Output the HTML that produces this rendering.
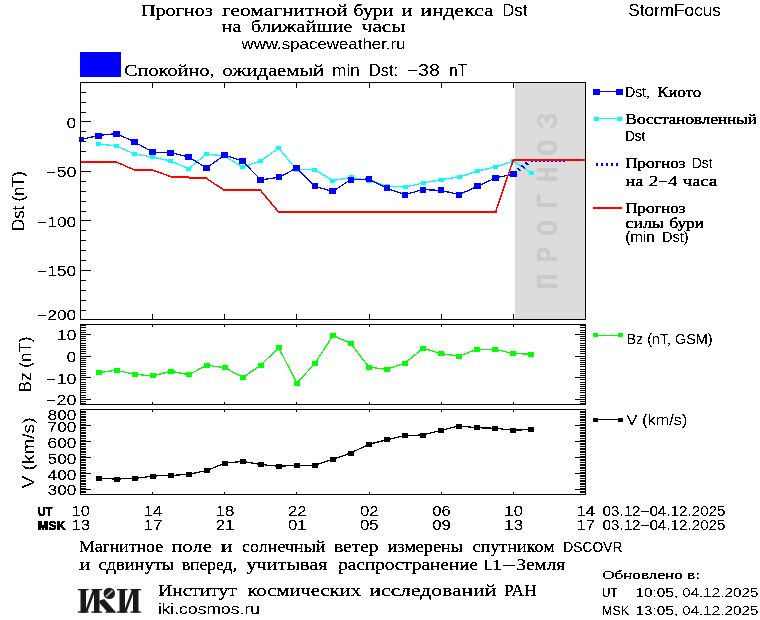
<!DOCTYPE html>
<html><head><meta charset="utf-8"><title>StormFocus</title>
<style>html,body{margin:0;padding:0;background:#fff;}svg{display:block;}text{white-space:pre;}</style></head><body>
<svg width="760" height="620" viewBox="0 0 760 620">
<rect x="0" y="0" width="760" height="620" fill="#fff"/>
<defs><filter id="crisp" x="0" y="0" width="100%" height="100%" filterUnits="userSpaceOnUse" primitiveUnits="userSpaceOnUse" color-interpolation-filters="sRGB"><feComponentTransfer><feFuncA type="discrete" tableValues="0 0 1 1 1"/></feComponentTransfer></filter><filter id="crisps" x="0" y="0" width="100%" height="100%" filterUnits="userSpaceOnUse" primitiveUnits="userSpaceOnUse" color-interpolation-filters="sRGB"><feComponentTransfer><feFuncA type="discrete" tableValues="0 0 0 0 1 1 1 1 1"/></feComponentTransfer></filter></defs>
<g shape-rendering="crispEdges">
<rect x="80" y="52" width="41" height="25" fill="#0000ff"/>
<rect x="515" y="83" width="70" height="236" fill="#dcdcdc"/>
</g>
<text transform="translate(557,289.5) rotate(-90) scale(0.9,1)" font-family='"Liberation Mono", monospace' font-weight="bold" font-size="30" fill="#cacaca" textLength="196.5" lengthAdjust="spacing">ПРОГНОЗ</text>
<g shape-rendering="crispEdges">
<rect x="80" y="82" width="506" height="1" fill="#000"/>
<rect x="80" y="319" width="506" height="1" fill="#000"/>
<rect x="80" y="82" width="1" height="238" fill="#000"/>
<rect x="585" y="82" width="1" height="238" fill="#000"/>
<rect x="80" y="324" width="506" height="1" fill="#000"/>
<rect x="80" y="404" width="506" height="1" fill="#000"/>
<rect x="80" y="324" width="1" height="81" fill="#000"/>
<rect x="585" y="324" width="1" height="81" fill="#000"/>
<rect x="80" y="409" width="506" height="1" fill="#000"/>
<rect x="80" y="494" width="506" height="1" fill="#000"/>
<rect x="80" y="409" width="1" height="86" fill="#000"/>
<rect x="585" y="409" width="1" height="86" fill="#000"/>
<rect x="80" y="82" width="1" height="6" fill="#000"/>
<rect x="80" y="314" width="1" height="6" fill="#000"/>
<rect x="80" y="324" width="1" height="3" fill="#000"/>
<rect x="80" y="402" width="1" height="3" fill="#000"/>
<rect x="80" y="409" width="1" height="3" fill="#000"/>
<rect x="80" y="492" width="1" height="3" fill="#000"/>
<rect x="152" y="82" width="1" height="6" fill="#000"/>
<rect x="152" y="314" width="1" height="6" fill="#000"/>
<rect x="152" y="324" width="1" height="3" fill="#000"/>
<rect x="152" y="402" width="1" height="3" fill="#000"/>
<rect x="152" y="409" width="1" height="3" fill="#000"/>
<rect x="152" y="492" width="1" height="3" fill="#000"/>
<rect x="224" y="82" width="1" height="6" fill="#000"/>
<rect x="224" y="314" width="1" height="6" fill="#000"/>
<rect x="224" y="324" width="1" height="3" fill="#000"/>
<rect x="224" y="402" width="1" height="3" fill="#000"/>
<rect x="224" y="409" width="1" height="3" fill="#000"/>
<rect x="224" y="492" width="1" height="3" fill="#000"/>
<rect x="296" y="82" width="1" height="6" fill="#000"/>
<rect x="296" y="314" width="1" height="6" fill="#000"/>
<rect x="296" y="324" width="1" height="3" fill="#000"/>
<rect x="296" y="402" width="1" height="3" fill="#000"/>
<rect x="296" y="409" width="1" height="3" fill="#000"/>
<rect x="296" y="492" width="1" height="3" fill="#000"/>
<rect x="369" y="82" width="1" height="6" fill="#000"/>
<rect x="369" y="314" width="1" height="6" fill="#000"/>
<rect x="369" y="324" width="1" height="3" fill="#000"/>
<rect x="369" y="402" width="1" height="3" fill="#000"/>
<rect x="369" y="409" width="1" height="3" fill="#000"/>
<rect x="369" y="492" width="1" height="3" fill="#000"/>
<rect x="441" y="82" width="1" height="6" fill="#000"/>
<rect x="441" y="314" width="1" height="6" fill="#000"/>
<rect x="441" y="324" width="1" height="3" fill="#000"/>
<rect x="441" y="402" width="1" height="3" fill="#000"/>
<rect x="441" y="409" width="1" height="3" fill="#000"/>
<rect x="441" y="492" width="1" height="3" fill="#000"/>
<rect x="513" y="82" width="1" height="6" fill="#000"/>
<rect x="513" y="314" width="1" height="6" fill="#000"/>
<rect x="513" y="324" width="1" height="3" fill="#000"/>
<rect x="513" y="402" width="1" height="3" fill="#000"/>
<rect x="513" y="409" width="1" height="3" fill="#000"/>
<rect x="513" y="492" width="1" height="3" fill="#000"/>
<rect x="585" y="82" width="1" height="6" fill="#000"/>
<rect x="585" y="314" width="1" height="6" fill="#000"/>
<rect x="585" y="324" width="1" height="3" fill="#000"/>
<rect x="585" y="402" width="1" height="3" fill="#000"/>
<rect x="585" y="409" width="1" height="3" fill="#000"/>
<rect x="585" y="492" width="1" height="3" fill="#000"/>
<rect x="80" y="82" width="6" height="1" fill="#000"/>
<rect x="80" y="92" width="6" height="1" fill="#000"/>
<rect x="80" y="102" width="6" height="1" fill="#000"/>
<rect x="80" y="112" width="6" height="1" fill="#000"/>
<rect x="80" y="121" width="11" height="1" fill="#000"/>
<rect x="80" y="131" width="6" height="1" fill="#000"/>
<rect x="80" y="141" width="6" height="1" fill="#000"/>
<rect x="80" y="151" width="6" height="1" fill="#000"/>
<rect x="80" y="161" width="6" height="1" fill="#000"/>
<rect x="80" y="171" width="11" height="1" fill="#000"/>
<rect x="80" y="181" width="6" height="1" fill="#000"/>
<rect x="80" y="191" width="6" height="1" fill="#000"/>
<rect x="80" y="201" width="6" height="1" fill="#000"/>
<rect x="80" y="211" width="6" height="1" fill="#000"/>
<rect x="80" y="220" width="11" height="1" fill="#000"/>
<rect x="80" y="230" width="6" height="1" fill="#000"/>
<rect x="80" y="240" width="6" height="1" fill="#000"/>
<rect x="80" y="250" width="6" height="1" fill="#000"/>
<rect x="80" y="260" width="6" height="1" fill="#000"/>
<rect x="80" y="270" width="11" height="1" fill="#000"/>
<rect x="80" y="280" width="6" height="1" fill="#000"/>
<rect x="80" y="290" width="6" height="1" fill="#000"/>
<rect x="80" y="300" width="6" height="1" fill="#000"/>
<rect x="80" y="310" width="6" height="1" fill="#000"/>
<rect x="80" y="319" width="11" height="1" fill="#000"/>
<rect x="80" y="325" width="6" height="1" fill="#000"/>
<rect x="580" y="325" width="6" height="1" fill="#000"/>
<rect x="80" y="327" width="6" height="1" fill="#000"/>
<rect x="580" y="327" width="6" height="1" fill="#000"/>
<rect x="80" y="330" width="6" height="1" fill="#000"/>
<rect x="580" y="330" width="6" height="1" fill="#000"/>
<rect x="80" y="332" width="6" height="1" fill="#000"/>
<rect x="580" y="332" width="6" height="1" fill="#000"/>
<rect x="80" y="334" width="11" height="1" fill="#000"/>
<rect x="575" y="334" width="11" height="1" fill="#000"/>
<rect x="80" y="336" width="6" height="1" fill="#000"/>
<rect x="580" y="336" width="6" height="1" fill="#000"/>
<rect x="80" y="338" width="6" height="1" fill="#000"/>
<rect x="580" y="338" width="6" height="1" fill="#000"/>
<rect x="80" y="340" width="6" height="1" fill="#000"/>
<rect x="580" y="340" width="6" height="1" fill="#000"/>
<rect x="80" y="343" width="6" height="1" fill="#000"/>
<rect x="580" y="343" width="6" height="1" fill="#000"/>
<rect x="80" y="345" width="6" height="1" fill="#000"/>
<rect x="580" y="345" width="6" height="1" fill="#000"/>
<rect x="80" y="347" width="6" height="1" fill="#000"/>
<rect x="580" y="347" width="6" height="1" fill="#000"/>
<rect x="80" y="349" width="6" height="1" fill="#000"/>
<rect x="580" y="349" width="6" height="1" fill="#000"/>
<rect x="80" y="351" width="6" height="1" fill="#000"/>
<rect x="580" y="351" width="6" height="1" fill="#000"/>
<rect x="80" y="353" width="6" height="1" fill="#000"/>
<rect x="580" y="353" width="6" height="1" fill="#000"/>
<rect x="80" y="356" width="11" height="1" fill="#000"/>
<rect x="575" y="356" width="11" height="1" fill="#000"/>
<rect x="80" y="358" width="6" height="1" fill="#000"/>
<rect x="580" y="358" width="6" height="1" fill="#000"/>
<rect x="80" y="360" width="6" height="1" fill="#000"/>
<rect x="580" y="360" width="6" height="1" fill="#000"/>
<rect x="80" y="362" width="6" height="1" fill="#000"/>
<rect x="580" y="362" width="6" height="1" fill="#000"/>
<rect x="80" y="364" width="6" height="1" fill="#000"/>
<rect x="580" y="364" width="6" height="1" fill="#000"/>
<rect x="80" y="366" width="6" height="1" fill="#000"/>
<rect x="580" y="366" width="6" height="1" fill="#000"/>
<rect x="80" y="369" width="6" height="1" fill="#000"/>
<rect x="580" y="369" width="6" height="1" fill="#000"/>
<rect x="80" y="371" width="6" height="1" fill="#000"/>
<rect x="580" y="371" width="6" height="1" fill="#000"/>
<rect x="80" y="373" width="6" height="1" fill="#000"/>
<rect x="580" y="373" width="6" height="1" fill="#000"/>
<rect x="80" y="375" width="6" height="1" fill="#000"/>
<rect x="580" y="375" width="6" height="1" fill="#000"/>
<rect x="80" y="377" width="11" height="1" fill="#000"/>
<rect x="575" y="377" width="11" height="1" fill="#000"/>
<rect x="80" y="379" width="6" height="1" fill="#000"/>
<rect x="580" y="379" width="6" height="1" fill="#000"/>
<rect x="80" y="382" width="6" height="1" fill="#000"/>
<rect x="580" y="382" width="6" height="1" fill="#000"/>
<rect x="80" y="384" width="6" height="1" fill="#000"/>
<rect x="580" y="384" width="6" height="1" fill="#000"/>
<rect x="80" y="386" width="6" height="1" fill="#000"/>
<rect x="580" y="386" width="6" height="1" fill="#000"/>
<rect x="80" y="388" width="6" height="1" fill="#000"/>
<rect x="580" y="388" width="6" height="1" fill="#000"/>
<rect x="80" y="390" width="6" height="1" fill="#000"/>
<rect x="580" y="390" width="6" height="1" fill="#000"/>
<rect x="80" y="392" width="6" height="1" fill="#000"/>
<rect x="580" y="392" width="6" height="1" fill="#000"/>
<rect x="80" y="395" width="6" height="1" fill="#000"/>
<rect x="580" y="395" width="6" height="1" fill="#000"/>
<rect x="80" y="397" width="6" height="1" fill="#000"/>
<rect x="580" y="397" width="6" height="1" fill="#000"/>
<rect x="80" y="399" width="11" height="1" fill="#000"/>
<rect x="575" y="399" width="11" height="1" fill="#000"/>
<rect x="80" y="401" width="6" height="1" fill="#000"/>
<rect x="580" y="401" width="6" height="1" fill="#000"/>
<rect x="80" y="403" width="6" height="1" fill="#000"/>
<rect x="580" y="403" width="6" height="1" fill="#000"/>
<rect x="80" y="411" width="6" height="1" fill="#000"/>
<rect x="580" y="411" width="6" height="1" fill="#000"/>
<rect x="80" y="412" width="6" height="1" fill="#000"/>
<rect x="580" y="412" width="6" height="1" fill="#000"/>
<rect x="80" y="414" width="6" height="1" fill="#000"/>
<rect x="580" y="414" width="6" height="1" fill="#000"/>
<rect x="80" y="416" width="6" height="1" fill="#000"/>
<rect x="580" y="416" width="6" height="1" fill="#000"/>
<rect x="80" y="417" width="6" height="1" fill="#000"/>
<rect x="580" y="417" width="6" height="1" fill="#000"/>
<rect x="80" y="419" width="6" height="1" fill="#000"/>
<rect x="580" y="419" width="6" height="1" fill="#000"/>
<rect x="80" y="420" width="6" height="1" fill="#000"/>
<rect x="580" y="420" width="6" height="1" fill="#000"/>
<rect x="80" y="422" width="6" height="1" fill="#000"/>
<rect x="580" y="422" width="6" height="1" fill="#000"/>
<rect x="80" y="424" width="6" height="1" fill="#000"/>
<rect x="580" y="424" width="6" height="1" fill="#000"/>
<rect x="80" y="425" width="11" height="1" fill="#000"/>
<rect x="575" y="425" width="11" height="1" fill="#000"/>
<rect x="80" y="427" width="6" height="1" fill="#000"/>
<rect x="580" y="427" width="6" height="1" fill="#000"/>
<rect x="80" y="428" width="6" height="1" fill="#000"/>
<rect x="580" y="428" width="6" height="1" fill="#000"/>
<rect x="80" y="430" width="6" height="1" fill="#000"/>
<rect x="580" y="430" width="6" height="1" fill="#000"/>
<rect x="80" y="432" width="6" height="1" fill="#000"/>
<rect x="580" y="432" width="6" height="1" fill="#000"/>
<rect x="80" y="433" width="6" height="1" fill="#000"/>
<rect x="580" y="433" width="6" height="1" fill="#000"/>
<rect x="80" y="435" width="6" height="1" fill="#000"/>
<rect x="580" y="435" width="6" height="1" fill="#000"/>
<rect x="80" y="436" width="6" height="1" fill="#000"/>
<rect x="580" y="436" width="6" height="1" fill="#000"/>
<rect x="80" y="438" width="6" height="1" fill="#000"/>
<rect x="580" y="438" width="6" height="1" fill="#000"/>
<rect x="80" y="440" width="6" height="1" fill="#000"/>
<rect x="580" y="440" width="6" height="1" fill="#000"/>
<rect x="80" y="441" width="11" height="1" fill="#000"/>
<rect x="575" y="441" width="11" height="1" fill="#000"/>
<rect x="80" y="443" width="6" height="1" fill="#000"/>
<rect x="580" y="443" width="6" height="1" fill="#000"/>
<rect x="80" y="444" width="6" height="1" fill="#000"/>
<rect x="580" y="444" width="6" height="1" fill="#000"/>
<rect x="80" y="446" width="6" height="1" fill="#000"/>
<rect x="580" y="446" width="6" height="1" fill="#000"/>
<rect x="80" y="448" width="6" height="1" fill="#000"/>
<rect x="580" y="448" width="6" height="1" fill="#000"/>
<rect x="80" y="449" width="6" height="1" fill="#000"/>
<rect x="580" y="449" width="6" height="1" fill="#000"/>
<rect x="80" y="451" width="6" height="1" fill="#000"/>
<rect x="580" y="451" width="6" height="1" fill="#000"/>
<rect x="80" y="452" width="6" height="1" fill="#000"/>
<rect x="580" y="452" width="6" height="1" fill="#000"/>
<rect x="80" y="454" width="6" height="1" fill="#000"/>
<rect x="580" y="454" width="6" height="1" fill="#000"/>
<rect x="80" y="456" width="6" height="1" fill="#000"/>
<rect x="580" y="456" width="6" height="1" fill="#000"/>
<rect x="80" y="457" width="11" height="1" fill="#000"/>
<rect x="575" y="457" width="11" height="1" fill="#000"/>
<rect x="80" y="459" width="6" height="1" fill="#000"/>
<rect x="580" y="459" width="6" height="1" fill="#000"/>
<rect x="80" y="460" width="6" height="1" fill="#000"/>
<rect x="580" y="460" width="6" height="1" fill="#000"/>
<rect x="80" y="462" width="6" height="1" fill="#000"/>
<rect x="580" y="462" width="6" height="1" fill="#000"/>
<rect x="80" y="464" width="6" height="1" fill="#000"/>
<rect x="580" y="464" width="6" height="1" fill="#000"/>
<rect x="80" y="465" width="6" height="1" fill="#000"/>
<rect x="580" y="465" width="6" height="1" fill="#000"/>
<rect x="80" y="467" width="6" height="1" fill="#000"/>
<rect x="580" y="467" width="6" height="1" fill="#000"/>
<rect x="80" y="468" width="6" height="1" fill="#000"/>
<rect x="580" y="468" width="6" height="1" fill="#000"/>
<rect x="80" y="470" width="6" height="1" fill="#000"/>
<rect x="580" y="470" width="6" height="1" fill="#000"/>
<rect x="80" y="472" width="6" height="1" fill="#000"/>
<rect x="580" y="472" width="6" height="1" fill="#000"/>
<rect x="80" y="473" width="11" height="1" fill="#000"/>
<rect x="575" y="473" width="11" height="1" fill="#000"/>
<rect x="80" y="475" width="6" height="1" fill="#000"/>
<rect x="580" y="475" width="6" height="1" fill="#000"/>
<rect x="80" y="476" width="6" height="1" fill="#000"/>
<rect x="580" y="476" width="6" height="1" fill="#000"/>
<rect x="80" y="478" width="6" height="1" fill="#000"/>
<rect x="580" y="478" width="6" height="1" fill="#000"/>
<rect x="80" y="480" width="6" height="1" fill="#000"/>
<rect x="580" y="480" width="6" height="1" fill="#000"/>
<rect x="80" y="481" width="6" height="1" fill="#000"/>
<rect x="580" y="481" width="6" height="1" fill="#000"/>
<rect x="80" y="483" width="6" height="1" fill="#000"/>
<rect x="580" y="483" width="6" height="1" fill="#000"/>
<rect x="80" y="484" width="6" height="1" fill="#000"/>
<rect x="580" y="484" width="6" height="1" fill="#000"/>
<rect x="80" y="486" width="6" height="1" fill="#000"/>
<rect x="580" y="486" width="6" height="1" fill="#000"/>
<rect x="80" y="488" width="6" height="1" fill="#000"/>
<rect x="580" y="488" width="6" height="1" fill="#000"/>
<rect x="80" y="489" width="11" height="1" fill="#000"/>
<rect x="575" y="489" width="11" height="1" fill="#000"/>
<rect x="80" y="491" width="6" height="1" fill="#000"/>
<rect x="580" y="491" width="6" height="1" fill="#000"/>
<rect x="80" y="492" width="6" height="1" fill="#000"/>
<rect x="580" y="492" width="6" height="1" fill="#000"/>
</g>
<g shape-rendering="crispEdges">
<polyline points="98.50,144.00 116.50,146.00 134.50,154.00 152.50,157.00 170.50,161.00 188.50,168.60 206.50,154.00 224.50,156.00 242.60,167.00 260.60,161.00 278.70,148.00 296.70,169.60 314.60,169.60 332.80,180.60 351.00,177.40 369.00,180.60 387.20,186.00 405.20,187.00 423.40,183.00 441.20,179.60 459.30,177.00 477.40,171.00 495.40,167.00 513.20,161.00 531.50,173.00" fill="none" stroke="#00ffff" stroke-width="1.25" stroke-linejoin="miter"/>
<rect x="96.0" y="142.0" width="5" height="4" fill="#00ffff"/>
<rect x="114.0" y="144.0" width="5" height="4" fill="#00ffff"/>
<rect x="132.0" y="152.0" width="5" height="4" fill="#00ffff"/>
<rect x="150.0" y="155.0" width="5" height="4" fill="#00ffff"/>
<rect x="168.0" y="159.0" width="5" height="4" fill="#00ffff"/>
<rect x="186.0" y="166.6" width="5" height="4" fill="#00ffff"/>
<rect x="204.0" y="152.0" width="5" height="4" fill="#00ffff"/>
<rect x="222.0" y="154.0" width="5" height="4" fill="#00ffff"/>
<rect x="240.1" y="165.0" width="5" height="4" fill="#00ffff"/>
<rect x="258.1" y="159.0" width="5" height="4" fill="#00ffff"/>
<rect x="276.2" y="146.0" width="5" height="4" fill="#00ffff"/>
<rect x="294.2" y="167.6" width="5" height="4" fill="#00ffff"/>
<rect x="312.1" y="167.6" width="5" height="4" fill="#00ffff"/>
<rect x="330.3" y="178.6" width="5" height="4" fill="#00ffff"/>
<rect x="348.5" y="175.4" width="5" height="4" fill="#00ffff"/>
<rect x="366.5" y="178.6" width="5" height="4" fill="#00ffff"/>
<rect x="384.7" y="184.0" width="5" height="4" fill="#00ffff"/>
<rect x="402.7" y="185.0" width="5" height="4" fill="#00ffff"/>
<rect x="420.9" y="181.0" width="5" height="4" fill="#00ffff"/>
<rect x="438.7" y="177.6" width="5" height="4" fill="#00ffff"/>
<rect x="456.8" y="175.0" width="5" height="4" fill="#00ffff"/>
<rect x="474.9" y="169.0" width="5" height="4" fill="#00ffff"/>
<rect x="492.9" y="165.0" width="5" height="4" fill="#00ffff"/>
<rect x="510.7" y="159.0" width="5" height="4" fill="#00ffff"/>
<rect x="529.0" y="171.0" width="5" height="4" fill="#00ffff"/>
<polyline points="80.50,139.70 98.50,135.50 116.50,133.50 134.50,142.00 152.50,152.00 170.50,152.60 188.50,156.80 206.50,168.00 224.50,155.00 242.60,161.20 260.60,179.80 278.80,177.40 296.70,168.00 314.80,186.40 332.70,191.40 350.80,179.60 369.00,179.00 387.00,188.40 405.00,194.60 423.00,189.60 441.00,190.40 459.20,194.60 477.30,186.40 495.30,178.00 513.50,174.00" fill="none" stroke="#0000ff" stroke-width="1.25" stroke-linejoin="miter"/>
<rect x="95.25" y="132.5" width="6.5" height="6" fill="#0000ff"/>
<rect x="113.25" y="130.5" width="6.5" height="6" fill="#0000ff"/>
<rect x="131.25" y="139.0" width="6.5" height="6" fill="#0000ff"/>
<rect x="149.25" y="149.0" width="6.5" height="6" fill="#0000ff"/>
<rect x="167.25" y="149.6" width="6.5" height="6" fill="#0000ff"/>
<rect x="185.25" y="153.8" width="6.5" height="6" fill="#0000ff"/>
<rect x="203.25" y="165.0" width="6.5" height="6" fill="#0000ff"/>
<rect x="221.25" y="152.0" width="6.5" height="6" fill="#0000ff"/>
<rect x="239.35" y="158.2" width="6.5" height="6" fill="#0000ff"/>
<rect x="257.35" y="176.8" width="6.5" height="6" fill="#0000ff"/>
<rect x="275.55" y="174.4" width="6.5" height="6" fill="#0000ff"/>
<rect x="293.45" y="165.0" width="6.5" height="6" fill="#0000ff"/>
<rect x="311.55" y="183.4" width="6.5" height="6" fill="#0000ff"/>
<rect x="329.45" y="188.4" width="6.5" height="6" fill="#0000ff"/>
<rect x="347.55" y="176.6" width="6.5" height="6" fill="#0000ff"/>
<rect x="365.75" y="176.0" width="6.5" height="6" fill="#0000ff"/>
<rect x="383.75" y="185.4" width="6.5" height="6" fill="#0000ff"/>
<rect x="401.75" y="191.6" width="6.5" height="6" fill="#0000ff"/>
<rect x="419.75" y="186.6" width="6.5" height="6" fill="#0000ff"/>
<rect x="437.75" y="187.4" width="6.5" height="6" fill="#0000ff"/>
<rect x="455.95" y="191.6" width="6.5" height="6" fill="#0000ff"/>
<rect x="474.05" y="183.4" width="6.5" height="6" fill="#0000ff"/>
<rect x="492.05" y="175.0" width="6.5" height="6" fill="#0000ff"/>
<rect x="510.25" y="171.0" width="6.5" height="6" fill="#0000ff"/>
<rect x="79" y="137" width="5" height="5" fill="#0000ff"/>
<rect x="80" y="161" width="37" height="2" fill="#ff0000"/>
<polyline points="116.50,162.00 134.50,170.00" fill="none" stroke="#ff0000" stroke-width="1.5" stroke-linejoin="miter"/>
<rect x="134" y="169" width="19" height="2" fill="#ff0000"/>
<polyline points="152.50,170.00 170.50,176.50" fill="none" stroke="#ff0000" stroke-width="1.5" stroke-linejoin="miter"/>
<polyline points="170.50,176.50 206.50,178.50" fill="none" stroke="#ff0000" stroke-width="2" stroke-linejoin="miter"/>
<polyline points="206.50,178.50 224.50,190.30" fill="none" stroke="#ff0000" stroke-width="1.5" stroke-linejoin="miter"/>
<rect x="224" y="189" width="37" height="2" fill="#ff0000"/>
<polyline points="260.50,190.30 278.50,212.00" fill="none" stroke="#ff0000" stroke-width="1.5" stroke-linejoin="miter"/>
<rect x="278" y="211" width="219" height="2" fill="#ff0000"/>
<polyline points="495.50,212.00 513.20,160.20" fill="none" stroke="#ff0000" stroke-width="1.5" stroke-linejoin="miter"/>
<rect x="513" y="159" width="72" height="2" fill="#ff0000"/>
<rect x="531" y="161" width="2" height="1" fill="#0000ff"/>
<rect x="535" y="161" width="2" height="1" fill="#0000ff"/>
<rect x="539" y="161" width="2" height="1" fill="#0000ff"/>
<rect x="543" y="161" width="2" height="1" fill="#0000ff"/>
<rect x="547" y="161" width="2" height="1" fill="#0000ff"/>
<rect x="551" y="161" width="2" height="1" fill="#0000ff"/>
<rect x="555" y="161" width="2" height="1" fill="#0000ff"/>
<rect x="559" y="161" width="2" height="1" fill="#0000ff"/>
<rect x="563" y="161" width="2" height="1" fill="#0000ff"/>
</g>
<g shape-rendering="crispEdges" stroke="#0000ff" stroke-width="1.8">
<line x1="517.5" y1="168.2" x2="520.8" y2="171"/>
<line x1="521.5" y1="165.3" x2="524.8" y2="168.2"/>
<line x1="525.3" y1="162.4" x2="528.6" y2="165"/>
</g>
<g shape-rendering="crispEdges">
<polyline points="98.50,372.75 116.50,370.25 135.00,374.50 153.00,375.75 171.00,371.25 188.75,374.75 207.00,365.25 225.00,367.75 243.00,377.50 260.75,365.10 278.75,347.75 296.75,383.00 314.75,363.75 333.00,335.40 350.75,343.50 369.00,367.25 386.75,369.25 405.00,363.25 423.00,348.25 441.00,353.50 458.75,356.25 477.00,349.25 495.00,349.25 513.00,353.50 531.00,354.25" fill="none" stroke="#00ff00" stroke-width="1.25" stroke-linejoin="miter"/>
<rect x="95.5" y="370.25" width="6" height="5" fill="#00ff00"/>
<rect x="113.5" y="367.75" width="6" height="5" fill="#00ff00"/>
<rect x="132.0" y="372.0" width="6" height="5" fill="#00ff00"/>
<rect x="150.0" y="373.25" width="6" height="5" fill="#00ff00"/>
<rect x="168.0" y="368.75" width="6" height="5" fill="#00ff00"/>
<rect x="185.75" y="372.25" width="6" height="5" fill="#00ff00"/>
<rect x="204.0" y="362.75" width="6" height="5" fill="#00ff00"/>
<rect x="222.0" y="365.25" width="6" height="5" fill="#00ff00"/>
<rect x="240.0" y="375.0" width="6" height="5" fill="#00ff00"/>
<rect x="257.75" y="362.6" width="6" height="5" fill="#00ff00"/>
<rect x="275.75" y="345.25" width="6" height="5" fill="#00ff00"/>
<rect x="293.75" y="380.5" width="6" height="5" fill="#00ff00"/>
<rect x="311.75" y="361.25" width="6" height="5" fill="#00ff00"/>
<rect x="330.0" y="332.9" width="6" height="5" fill="#00ff00"/>
<rect x="347.75" y="341.0" width="6" height="5" fill="#00ff00"/>
<rect x="366.0" y="364.75" width="6" height="5" fill="#00ff00"/>
<rect x="383.75" y="366.75" width="6" height="5" fill="#00ff00"/>
<rect x="402.0" y="360.75" width="6" height="5" fill="#00ff00"/>
<rect x="420.0" y="345.75" width="6" height="5" fill="#00ff00"/>
<rect x="438.0" y="351.0" width="6" height="5" fill="#00ff00"/>
<rect x="455.75" y="353.75" width="6" height="5" fill="#00ff00"/>
<rect x="474.0" y="346.75" width="6" height="5" fill="#00ff00"/>
<rect x="492.0" y="346.75" width="6" height="5" fill="#00ff00"/>
<rect x="510.0" y="351.0" width="6" height="5" fill="#00ff00"/>
<rect x="528.0" y="351.75" width="6" height="5" fill="#00ff00"/>
<polyline points="98.50,478.50 116.50,479.00 135.00,478.50 153.00,476.00 171.00,475.50 189.00,474.25 207.00,470.50 225.00,463.00 243.00,461.50 261.00,464.50 279.00,466.25 297.00,465.25 314.75,465.25 333.00,459.25 350.75,453.00 369.00,444.25 387.00,439.75 405.00,435.50 423.00,435.00 441.00,430.25 459.00,426.00 477.00,427.75 495.00,428.25 513.00,430.25 531.00,429.50" fill="none" stroke="#000" stroke-width="1.25" stroke-linejoin="miter"/>
<rect x="95.5" y="476.0" width="6" height="5" fill="#000"/>
<rect x="113.5" y="476.5" width="6" height="5" fill="#000"/>
<rect x="132.0" y="476.0" width="6" height="5" fill="#000"/>
<rect x="150.0" y="473.5" width="6" height="5" fill="#000"/>
<rect x="168.0" y="473.0" width="6" height="5" fill="#000"/>
<rect x="186.0" y="471.75" width="6" height="5" fill="#000"/>
<rect x="204.0" y="468.0" width="6" height="5" fill="#000"/>
<rect x="222.0" y="460.5" width="6" height="5" fill="#000"/>
<rect x="240.0" y="459.0" width="6" height="5" fill="#000"/>
<rect x="258.0" y="462.0" width="6" height="5" fill="#000"/>
<rect x="276.0" y="463.75" width="6" height="5" fill="#000"/>
<rect x="294.0" y="462.75" width="6" height="5" fill="#000"/>
<rect x="311.75" y="462.75" width="6" height="5" fill="#000"/>
<rect x="330.0" y="456.75" width="6" height="5" fill="#000"/>
<rect x="347.75" y="450.5" width="6" height="5" fill="#000"/>
<rect x="366.0" y="441.75" width="6" height="5" fill="#000"/>
<rect x="384.0" y="437.25" width="6" height="5" fill="#000"/>
<rect x="402.0" y="433.0" width="6" height="5" fill="#000"/>
<rect x="420.0" y="432.5" width="6" height="5" fill="#000"/>
<rect x="438.0" y="427.75" width="6" height="5" fill="#000"/>
<rect x="456.0" y="423.5" width="6" height="5" fill="#000"/>
<rect x="474.0" y="425.25" width="6" height="5" fill="#000"/>
<rect x="492.0" y="425.75" width="6" height="5" fill="#000"/>
<rect x="510.0" y="427.75" width="6" height="5" fill="#000"/>
<rect x="528.0" y="427.0" width="6" height="5" fill="#000"/>
<rect x="80" y="82" width="1" height="238" fill="#000"/>
</g>
<g shape-rendering="crispEdges">
<rect x="596" y="91" width="25" height="1" fill="#0000ff"/>
<rect x="593" y="89" width="7" height="6" fill="#0000ff"/>
<rect x="616" y="89" width="7" height="6" fill="#0000ff"/>
<rect x="596" y="118" width="25" height="1" fill="#00ffff"/>
<rect x="594" y="117" width="5" height="4" fill="#00ffff"/>
<rect x="617" y="117" width="5" height="4" fill="#00ffff"/>
<rect x="596" y="163" width="2" height="3" fill="#0000ff"/>
<rect x="601" y="163" width="2" height="3" fill="#0000ff"/>
<rect x="606" y="163" width="2" height="3" fill="#0000ff"/>
<rect x="611" y="163" width="2" height="3" fill="#0000ff"/>
<rect x="616" y="163" width="2" height="3" fill="#0000ff"/>
<rect x="593" y="207" width="29" height="2" fill="#ff0000"/>
<rect x="596" y="335" width="25" height="1" fill="#00ff00"/>
<rect x="593" y="333" width="5" height="4" fill="#00ff00"/>
<rect x="618" y="333" width="5" height="4" fill="#00ff00"/>
<rect x="596" y="419" width="25" height="1" fill="#000"/>
<rect x="593" y="418" width="5" height="4" fill="#000"/>
<rect x="618" y="418" width="5" height="4" fill="#000"/>
</g>
<g fill="#1a1a1a" stroke="none">
<rect x="80.5" y="589.0" width="5.5" height="23.700000000000045"/>
<rect x="77.9" y="589.0" width="10.7" height="1.3"/>
<rect x="77.9" y="611.4000000000001" width="10.7" height="1.3"/>
<rect x="94.0" y="589.0" width="5.5" height="23.700000000000045"/>
<rect x="91.4" y="589.0" width="10.7" height="1.3"/>
<rect x="91.4" y="611.4000000000001" width="10.7" height="1.3"/>
<rect x="119.5" y="589.0" width="5.5" height="23.700000000000045"/>
<rect x="116.9" y="589.0" width="10.7" height="1.3"/>
<rect x="116.9" y="611.4000000000001" width="10.7" height="1.3"/>
<rect x="133.0" y="589.0" width="5.5" height="23.700000000000045"/>
<rect x="130.4" y="589.0" width="10.7" height="1.3"/>
<rect x="130.4" y="611.4000000000001" width="10.7" height="1.3"/>
<polygon points="86,608.6 86,612 87.4,612 94.2,593.4 94.2,590 92.8,590"/>
<polygon points="125,608.6 125,612 126.4,612 133.2,593.4 133.2,590 131.8,590"/>
<circle cx="109.3" cy="593.4" r="5.7"/>
<polygon points="99.5,603 99.5,600.6 104.2,599 115.2,611.4 116.6,612.7 105.6,612.7 105.6,611.4 107,611.4"/>
</g>
<line x1="106" y1="596.6" x2="112.6" y2="590.4" stroke="#b8b8b8" stroke-width="1.7"/>
<g filter="url(#crisp)">
<text x="657.25" y="96.8" font-family='"Liberation Serif", serif' font-size="14" font-weight="normal" fill="#000" textLength="43.95" lengthAdjust="spacingAndGlyphs"  stroke="#000" stroke-width="0.22">Киото</text>
<text x="625.5" y="124" font-family='"Liberation Serif", serif' font-size="14" font-weight="normal" fill="#000" textLength="131.5" lengthAdjust="spacingAndGlyphs"  stroke="#000" stroke-width="0.22">Восстановленный</text>
<text x="625.5" y="167.8" font-family='"Liberation Serif", serif' font-size="14" font-weight="normal" fill="#000" textLength="59.8" lengthAdjust="spacingAndGlyphs"  stroke="#000" stroke-width="0.22">Прогноз</text>
<text x="625.5" y="185.6" font-family='"Liberation Serif", serif' font-size="14" font-weight="normal" fill="#000" textLength="18.0" lengthAdjust="spacingAndGlyphs"  stroke="#000" stroke-width="0.22">на</text>
<text x="649.0" y="185.6" font-family='"Liberation Serif", serif' font-size="14" font-weight="normal" fill="#000" textLength="28.2" lengthAdjust="spacingAndGlyphs"  stroke="#000" stroke-width="0.22">2−4</text>
<text x="683.0" y="185.6" font-family='"Liberation Serif", serif' font-size="14" font-weight="normal" fill="#000" textLength="34.2" lengthAdjust="spacingAndGlyphs"  stroke="#000" stroke-width="0.22">часа</text>
<text x="625.5" y="212.7" font-family='"Liberation Serif", serif' font-size="14" font-weight="normal" fill="#000" textLength="59.8" lengthAdjust="spacingAndGlyphs"  stroke="#000" stroke-width="0.22">Прогноз</text>
<text x="625.5" y="227.5" font-family='"Liberation Serif", serif' font-size="14" font-weight="normal" fill="#000" textLength="38.3" lengthAdjust="spacingAndGlyphs"  stroke="#000" stroke-width="0.22">силы</text>
<text x="669.5" y="227.5" font-family='"Liberation Serif", serif' font-size="14" font-weight="normal" fill="#000" textLength="34.2" lengthAdjust="spacingAndGlyphs"  stroke="#000" stroke-width="0.22">бури</text>
<text x="140.9" y="15.5" font-family='"Liberation Serif", serif' font-size="16" font-weight="normal" fill="#000" textLength="72.1" lengthAdjust="spacingAndGlyphs"  stroke="#000" stroke-width="0.1">Прогноз</text>
<text x="222.0" y="15.5" font-family='"Liberation Serif", serif' font-size="16" font-weight="normal" fill="#000" textLength="126.0" lengthAdjust="spacingAndGlyphs"  stroke="#000" stroke-width="0.1">геомагнитной</text>
<text x="353.5" y="15.5" font-family='"Liberation Serif", serif' font-size="16" font-weight="normal" fill="#000" textLength="40.0" lengthAdjust="spacingAndGlyphs"  stroke="#000" stroke-width="0.1">бури</text>
<text x="401.5" y="15.5" font-family='"Liberation Serif", serif' font-size="16" font-weight="normal" fill="#000" textLength="11.5" lengthAdjust="spacingAndGlyphs"  stroke="#000" stroke-width="0.1">и</text>
<text x="420.5" y="15.5" font-family='"Liberation Serif", serif' font-size="16" font-weight="normal" fill="#000" textLength="73.0" lengthAdjust="spacingAndGlyphs"  stroke="#000" stroke-width="0.1">индекса</text>
<text x="221.5" y="32" font-family='"Liberation Serif", serif' font-size="16" font-weight="normal" fill="#000" textLength="20.25" lengthAdjust="spacingAndGlyphs"  stroke="#000" stroke-width="0.1">на</text>
<text x="250.75" y="32" font-family='"Liberation Serif", serif' font-size="16" font-weight="normal" fill="#000" textLength="101.75" lengthAdjust="spacingAndGlyphs"  stroke="#000" stroke-width="0.1">ближайшие</text>
<text x="361.75" y="32" font-family='"Liberation Serif", serif' font-size="16" font-weight="normal" fill="#000" textLength="43.75" lengthAdjust="spacingAndGlyphs"  stroke="#000" stroke-width="0.1">часы</text>
<text x="124" y="76" font-family='"Liberation Serif", serif' font-size="16" font-weight="normal" fill="#000" textLength="90.5" lengthAdjust="spacingAndGlyphs"  stroke="#000" stroke-width="0.1">Спокойно,</text>
<text x="222.5" y="76" font-family='"Liberation Serif", serif' font-size="16" font-weight="normal" fill="#000" textLength="101.5" lengthAdjust="spacingAndGlyphs"  stroke="#000" stroke-width="0.1">ожидаемый</text>
<text x="79.0" y="551.8" font-family='"Liberation Serif", serif' font-size="16" font-weight="normal" fill="#000" textLength="84.0" lengthAdjust="spacingAndGlyphs"  stroke="#000" stroke-width="0.1">Магнитное</text>
<text x="171.5" y="551.8" font-family='"Liberation Serif", serif' font-size="16" font-weight="normal" fill="#000" textLength="40.25" lengthAdjust="spacingAndGlyphs"  stroke="#000" stroke-width="0.1">поле</text>
<text x="220.75" y="551.8" font-family='"Liberation Serif", serif' font-size="16" font-weight="normal" fill="#000" textLength="12.25" lengthAdjust="spacingAndGlyphs"  stroke="#000" stroke-width="0.1">и</text>
<text x="242.0" y="551.8" font-family='"Liberation Serif", serif' font-size="16" font-weight="normal" fill="#000" textLength="83.5" lengthAdjust="spacingAndGlyphs"  stroke="#000" stroke-width="0.1">солнечный</text>
<text x="334.0" y="551.8" font-family='"Liberation Serif", serif' font-size="16" font-weight="normal" fill="#000" textLength="44.5" lengthAdjust="spacingAndGlyphs"  stroke="#000" stroke-width="0.1">ветер</text>
<text x="387.5" y="551.8" font-family='"Liberation Serif", serif' font-size="16" font-weight="normal" fill="#000" textLength="75.5" lengthAdjust="spacingAndGlyphs"  stroke="#000" stroke-width="0.1">измерены</text>
<text x="472.5" y="551.8" font-family='"Liberation Serif", serif' font-size="16" font-weight="normal" fill="#000" textLength="82.25" lengthAdjust="spacingAndGlyphs"  stroke="#000" stroke-width="0.1">спутником</text>
<text x="79.0" y="569.8" font-family='"Liberation Serif", serif' font-size="16" font-weight="normal" fill="#000" textLength="12.0" lengthAdjust="spacingAndGlyphs"  stroke="#000" stroke-width="0.1">и</text>
<text x="98.25" y="569.8" font-family='"Liberation Serif", serif' font-size="16" font-weight="normal" fill="#000" textLength="76.0" lengthAdjust="spacingAndGlyphs"  stroke="#000" stroke-width="0.1">сдвинуты</text>
<text x="182.0" y="569.8" font-family='"Liberation Serif", serif' font-size="16" font-weight="normal" fill="#000" textLength="54.75" lengthAdjust="spacingAndGlyphs"  stroke="#000" stroke-width="0.1">вперед,</text>
<text x="246.5" y="569.8" font-family='"Liberation Serif", serif' font-size="16" font-weight="normal" fill="#000" textLength="81.0" lengthAdjust="spacingAndGlyphs"  stroke="#000" stroke-width="0.1">учитывая</text>
<text x="338.25" y="569.8" font-family='"Liberation Serif", serif' font-size="16" font-weight="normal" fill="#000" textLength="139.75" lengthAdjust="spacingAndGlyphs"  stroke="#000" stroke-width="0.1">распространение</text>
<text x="516.5" y="569.8" font-family='"Liberation Serif", serif' font-size="16" font-weight="normal" fill="#000" textLength="48.5" lengthAdjust="spacingAndGlyphs"  stroke="#000" stroke-width="0.1">Земля</text>
<text x="158.25" y="595.8" font-family='"Liberation Serif", serif' font-size="16" font-weight="normal" fill="#000" textLength="78.5" lengthAdjust="spacingAndGlyphs"  stroke="#000" stroke-width="0.1">Институт</text>
<text x="247.5" y="595.8" font-family='"Liberation Serif", serif' font-size="16" font-weight="normal" fill="#000" textLength="113.5" lengthAdjust="spacingAndGlyphs"  stroke="#000" stroke-width="0.1">космических</text>
<text x="369.5" y="595.8" font-family='"Liberation Serif", serif' font-size="16" font-weight="normal" fill="#000" textLength="126.8" lengthAdjust="spacingAndGlyphs"  stroke="#000" stroke-width="0.1">исследований</text>
<text x="504.1" y="595.8" font-family='"Liberation Serif", serif' font-size="16" font-weight="normal" fill="#000" textLength="32.3" lengthAdjust="spacingAndGlyphs"  stroke="#000" stroke-width="0.1">РАН</text>
<text x="602" y="578.5" font-family='"Liberation Serif", serif' font-size="13" font-weight="normal" fill="#000" textLength="98" lengthAdjust="spacingAndGlyphs"  stroke="#000" stroke-width="0.1">Обновлено в:</text>
</g>
<g filter="url(#crisps)">
<text x="625.2" y="96.8" font-family='"Liberation Sans", sans-serif' font-size="14.5" font-weight="normal" fill="#000" textLength="24.6" lengthAdjust="spacingAndGlyphs" >Dst,</text>
<text x="625.2" y="141.2" font-family='"Liberation Sans", sans-serif' font-size="14.5" font-weight="normal" fill="#000" textLength="20.1" lengthAdjust="spacingAndGlyphs" >Dst</text>
<text x="691.9" y="167.8" font-family='"Liberation Sans", sans-serif' font-size="14.5" font-weight="normal" fill="#000" textLength="20.6" lengthAdjust="spacingAndGlyphs" >Dst</text>
<text x="625.2" y="241.6" font-family='"Liberation Sans", sans-serif' font-size="14.5" font-weight="normal" fill="#000" textLength="29.6" lengthAdjust="spacingAndGlyphs" >(min</text>
<text x="661.9" y="241.6" font-family='"Liberation Sans", sans-serif' font-size="14.5" font-weight="normal" fill="#000" textLength="26.7" lengthAdjust="spacingAndGlyphs" >Dst)</text>
<text x="626.5" y="344" font-family='"Liberation Sans", sans-serif' font-size="14" font-weight="normal" fill="#000" textLength="86" lengthAdjust="spacingAndGlyphs" >Bz (nT, GSM)</text>
<text x="626.5" y="425" font-family='"Liberation Sans", sans-serif' font-size="14" font-weight="normal" fill="#000" textLength="61" lengthAdjust="spacingAndGlyphs" >V (km/s)</text>
<text x="502.3" y="15.8" font-family='"Liberation Sans", sans-serif' font-size="16" font-weight="normal" fill="#000" textLength="25" lengthAdjust="spacingAndGlyphs" >Dst</text>
<text x="241.5" y="49" font-family='"Liberation Sans", sans-serif' font-size="14" font-weight="normal" fill="#000" textLength="164" lengthAdjust="spacingAndGlyphs" >www.spaceweather.ru</text>
<text x="628.3" y="15.8" font-family='"Liberation Sans", sans-serif' font-size="16" font-weight="normal" fill="#000" textLength="92.5" lengthAdjust="spacingAndGlyphs" >StormFocus</text>
<text x="332.3" y="76.2" font-family='"Liberation Sans", sans-serif' font-size="16" font-weight="normal" fill="#000" textLength="27.5" lengthAdjust="spacingAndGlyphs" >min</text>
<text x="369" y="76.2" font-family='"Liberation Sans", sans-serif' font-size="16" font-weight="normal" fill="#000" textLength="29" lengthAdjust="spacingAndGlyphs" >Dst:</text>
<text x="406.5" y="76.2" font-family='"Liberation Sans", sans-serif' font-size="16" font-weight="normal" fill="#000" textLength="33.5" lengthAdjust="spacingAndGlyphs" >−38</text>
<text x="449.3" y="76.2" font-family='"Liberation Sans", sans-serif' font-size="16" font-weight="normal" fill="#000" textLength="17.5" lengthAdjust="spacingAndGlyphs" >nT</text>
<text x="76.3" y="127.5" font-family='"Liberation Sans", sans-serif' font-size="15" font-weight="normal" fill="#000" text-anchor="end" textLength="9.7" lengthAdjust="spacingAndGlyphs" >0</text>
<text x="76.3" y="177" font-family='"Liberation Sans", sans-serif' font-size="15" font-weight="normal" fill="#000" text-anchor="end" textLength="30.2" lengthAdjust="spacingAndGlyphs" >−50</text>
<text x="76.3" y="226.5" font-family='"Liberation Sans", sans-serif' font-size="15" font-weight="normal" fill="#000" text-anchor="end" textLength="39.2" lengthAdjust="spacingAndGlyphs" >−100</text>
<text x="76.3" y="276" font-family='"Liberation Sans", sans-serif' font-size="15" font-weight="normal" fill="#000" text-anchor="end" textLength="39.2" lengthAdjust="spacingAndGlyphs" >−150</text>
<text x="76.3" y="320" font-family='"Liberation Sans", sans-serif' font-size="15" font-weight="normal" fill="#000" text-anchor="end" textLength="39.2" lengthAdjust="spacingAndGlyphs" >−200</text>
<text x="76.3" y="340" font-family='"Liberation Sans", sans-serif' font-size="15" font-weight="normal" fill="#000" text-anchor="end" textLength="19.2" lengthAdjust="spacingAndGlyphs" >10</text>
<text x="76.3" y="361.5" font-family='"Liberation Sans", sans-serif' font-size="15" font-weight="normal" fill="#000" text-anchor="end" textLength="9.7" lengthAdjust="spacingAndGlyphs" >0</text>
<text x="76.3" y="383.5" font-family='"Liberation Sans", sans-serif' font-size="15" font-weight="normal" fill="#000" text-anchor="end" textLength="30.2" lengthAdjust="spacingAndGlyphs" >−10</text>
<text x="76.3" y="405" font-family='"Liberation Sans", sans-serif' font-size="15" font-weight="normal" fill="#000" text-anchor="end" textLength="30.2" lengthAdjust="spacingAndGlyphs" >−20</text>
<text x="76.3" y="419.5" font-family='"Liberation Sans", sans-serif' font-size="15" font-weight="normal" fill="#000" text-anchor="end" textLength="28.7" lengthAdjust="spacingAndGlyphs" >800</text>
<text x="76.3" y="431.5" font-family='"Liberation Sans", sans-serif' font-size="15" font-weight="normal" fill="#000" text-anchor="end" textLength="28.7" lengthAdjust="spacingAndGlyphs" >700</text>
<text x="76.3" y="447.5" font-family='"Liberation Sans", sans-serif' font-size="15" font-weight="normal" fill="#000" text-anchor="end" textLength="28.7" lengthAdjust="spacingAndGlyphs" >600</text>
<text x="76.3" y="463.5" font-family='"Liberation Sans", sans-serif' font-size="15" font-weight="normal" fill="#000" text-anchor="end" textLength="28.7" lengthAdjust="spacingAndGlyphs" >500</text>
<text x="76.3" y="479.5" font-family='"Liberation Sans", sans-serif' font-size="15" font-weight="normal" fill="#000" text-anchor="end" textLength="28.7" lengthAdjust="spacingAndGlyphs" >400</text>
<text x="76.3" y="494.5" font-family='"Liberation Sans", sans-serif' font-size="15" font-weight="normal" fill="#000" text-anchor="end" textLength="28.7" lengthAdjust="spacingAndGlyphs" >300</text>
<text transform="translate(24,201) rotate(-90)" text-anchor="middle" font-family='"Liberation Sans", sans-serif' font-size="16" textLength="59.5" lengthAdjust="spacingAndGlyphs">Dst (nT)</text>
<text transform="translate(31,364.5) rotate(-90)" text-anchor="middle" font-family='"Liberation Sans", sans-serif' font-size="16" textLength="56" lengthAdjust="spacingAndGlyphs">Bz (nT)</text>
<text transform="translate(34,453) rotate(-90)" text-anchor="middle" font-family='"Liberation Sans", sans-serif' font-size="16" textLength="71" lengthAdjust="spacingAndGlyphs">V (km/s)</text>
<text x="37.8" y="515.5" font-family='"Liberation Sans", sans-serif' font-size="13" font-weight="bold" fill="#000" textLength="14.5" lengthAdjust="spacingAndGlyphs" stroke="#000" stroke-width="0.45">UT</text>
<text x="37.8" y="529.5" font-family='"Liberation Sans", sans-serif' font-size="13" font-weight="bold" fill="#000" textLength="28" lengthAdjust="spacingAndGlyphs" stroke="#000" stroke-width="0.45">MSK</text>
<text x="80.8" y="515.5" font-family='"Liberation Sans", sans-serif' font-size="15" font-weight="normal" fill="#000" text-anchor="middle" textLength="18.6" lengthAdjust="spacingAndGlyphs" >10</text>
<text x="80.8" y="529.5" font-family='"Liberation Sans", sans-serif' font-size="15" font-weight="normal" fill="#000" text-anchor="middle" textLength="18.6" lengthAdjust="spacingAndGlyphs" >13</text>
<text x="152.94285714285715" y="515.5" font-family='"Liberation Sans", sans-serif' font-size="15" font-weight="normal" fill="#000" text-anchor="middle" textLength="18.6" lengthAdjust="spacingAndGlyphs" >14</text>
<text x="152.94285714285715" y="529.5" font-family='"Liberation Sans", sans-serif' font-size="15" font-weight="normal" fill="#000" text-anchor="middle" textLength="18.6" lengthAdjust="spacingAndGlyphs" >17</text>
<text x="225.0857142857143" y="515.5" font-family='"Liberation Sans", sans-serif' font-size="15" font-weight="normal" fill="#000" text-anchor="middle" textLength="18.6" lengthAdjust="spacingAndGlyphs" >18</text>
<text x="225.0857142857143" y="529.5" font-family='"Liberation Sans", sans-serif' font-size="15" font-weight="normal" fill="#000" text-anchor="middle" textLength="18.6" lengthAdjust="spacingAndGlyphs" >21</text>
<text x="297.22857142857146" y="515.5" font-family='"Liberation Sans", sans-serif' font-size="15" font-weight="normal" fill="#000" text-anchor="middle" textLength="18.6" lengthAdjust="spacingAndGlyphs" >22</text>
<text x="297.22857142857146" y="529.5" font-family='"Liberation Sans", sans-serif' font-size="15" font-weight="normal" fill="#000" text-anchor="middle" textLength="18.6" lengthAdjust="spacingAndGlyphs" >01</text>
<text x="369.37142857142857" y="515.5" font-family='"Liberation Sans", sans-serif' font-size="15" font-weight="normal" fill="#000" text-anchor="middle" textLength="18.6" lengthAdjust="spacingAndGlyphs" >02</text>
<text x="369.37142857142857" y="529.5" font-family='"Liberation Sans", sans-serif' font-size="15" font-weight="normal" fill="#000" text-anchor="middle" textLength="18.6" lengthAdjust="spacingAndGlyphs" >05</text>
<text x="441.51428571428573" y="515.5" font-family='"Liberation Sans", sans-serif' font-size="15" font-weight="normal" fill="#000" text-anchor="middle" textLength="18.6" lengthAdjust="spacingAndGlyphs" >06</text>
<text x="441.51428571428573" y="529.5" font-family='"Liberation Sans", sans-serif' font-size="15" font-weight="normal" fill="#000" text-anchor="middle" textLength="18.6" lengthAdjust="spacingAndGlyphs" >09</text>
<text x="513.6571428571428" y="515.5" font-family='"Liberation Sans", sans-serif' font-size="15" font-weight="normal" fill="#000" text-anchor="middle" textLength="18.6" lengthAdjust="spacingAndGlyphs" >10</text>
<text x="513.6571428571428" y="529.5" font-family='"Liberation Sans", sans-serif' font-size="15" font-weight="normal" fill="#000" text-anchor="middle" textLength="18.6" lengthAdjust="spacingAndGlyphs" >13</text>
<text x="585.8" y="515.5" font-family='"Liberation Sans", sans-serif' font-size="15" font-weight="normal" fill="#000" text-anchor="middle" textLength="18.6" lengthAdjust="spacingAndGlyphs" >14</text>
<text x="585.8" y="529.5" font-family='"Liberation Sans", sans-serif' font-size="15" font-weight="normal" fill="#000" text-anchor="middle" textLength="18.6" lengthAdjust="spacingAndGlyphs" >17</text>
<text x="602.5" y="515.5" font-family='"Liberation Sans", sans-serif' font-size="15" font-weight="normal" fill="#000" textLength="123" lengthAdjust="spacingAndGlyphs" >03.12−04.12.2025</text>
<text x="602.5" y="529.5" font-family='"Liberation Sans", sans-serif' font-size="15" font-weight="normal" fill="#000" textLength="123" lengthAdjust="spacingAndGlyphs" >03.12−04.12.2025</text>
<text x="563.2" y="552" font-family='"Liberation Sans", sans-serif' font-size="14.5" font-weight="normal" fill="#000" textLength="59.2" lengthAdjust="spacingAndGlyphs" >DSCOVR</text>
<text x="483.7" y="570" font-family='"Liberation Sans", sans-serif' font-size="14.5" font-weight="normal" fill="#000" textLength="17.6" lengthAdjust="spacingAndGlyphs" >L1</text>
<text x="501.7" y="570" font-family='"Liberation Sans", sans-serif' font-size="14.5" font-weight="normal" fill="#000" textLength="14.1" lengthAdjust="spacingAndGlyphs" >−</text>
<text x="157.7" y="613.6" font-family='"Liberation Sans", sans-serif' font-size="14" font-weight="normal" fill="#000" textLength="102.35" lengthAdjust="spacingAndGlyphs" >iki.cosmos.ru</text>
<text x="602" y="597" font-family='"Liberation Sans", sans-serif' font-size="13" font-weight="normal" fill="#000" textLength="15.5" lengthAdjust="spacingAndGlyphs" >UT</text>
<text x="635.5" y="597" font-family='"Liberation Sans", sans-serif' font-size="13" font-weight="normal" fill="#000" textLength="123" lengthAdjust="spacingAndGlyphs" >10:05, 04.12.2025</text>
<text x="602" y="615" font-family='"Liberation Sans", sans-serif' font-size="13" font-weight="normal" fill="#000" textLength="27" lengthAdjust="spacingAndGlyphs" >MSK</text>
<text x="635.5" y="615" font-family='"Liberation Sans", sans-serif' font-size="13" font-weight="normal" fill="#000" textLength="123" lengthAdjust="spacingAndGlyphs" >13:05, 04.12.2025</text>
</g>
</svg></body></html>
